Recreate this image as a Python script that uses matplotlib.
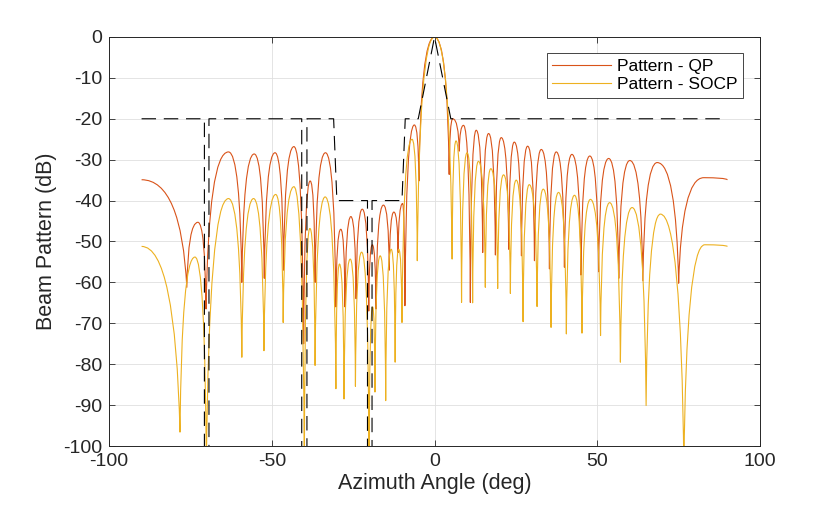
import matplotlib
matplotlib.use('Agg')
import matplotlib.pyplot as plt
from matplotlib.path import Path
from matplotlib.patches import PathPatch
from matplotlib.lines import Line2D

plt.rcParams['font.family'] = ['Liberation Sans', 'DejaVu Sans']
plt.rcParams['axes.unicode_minus'] = False

# lobe extrema (peak / null), azimuth in deg, pattern in dB
qp_ang = [-90.0, -76.1, -72.7, -70.2, -63.3, -59.2, -55.4, -52.3, -49.0, -46.4,
          -43.2, -40.2, -38.2, -36.7, -33.5, -30.3, -28.8, -27.5, -25.7, -24.1,
          -22.2, -20.2, -19.1, -18.0, -15.7, -13.9, -12.5, -11.2, -9.8, -9.1,
          -6.2, -4.8, 0.0, 4.5, 5.6, 7.6, 8.9, 11.0, 12.8, 14.8,
          16.6, 18.7, 20.5, 22.8, 24.5, 26.7, 28.6, 30.7, 32.8, 35.3,
          37.4, 39.9, 42.2, 45.0, 47.7, 50.4, 53.5, 56.6, 60.0, 64.0,
          68.4, 75.0, 82.7, 90.0]
qp_db = [-34.9, -61.2, -45.3, -66.5, -28.1, -60.0, -28.6, -59.0, -28.3, -57.0,
         -26.8, -75.0, -35.2, -60.0, -28.3, -66.0, -47.0, -66.0, -43.9, -64.0,
         -42.1, -67.0, -50.8, -66.5, -41.1, -57.0, -42.8, -52.7, -40.7, -65.7,
         -21.5, -35.2, 0.0, -33.6, -20.0, -27.9, -21.6, -64.9, -22.8, -52.7,
         -23.6, -53.3, -24.6, -51.9, -25.7, -53.5, -26.7, -54.7, -27.5, -56.7,
         -28.1, -56.3, -28.7, -58.2, -29.1, -57.4, -29.7, -59.0, -30.2, -59.6,
         -30.7, -60.2, -34.4, -34.9]

socp_ang = [-90.0, -78.2, -73.6, -70.1, -63.3, -59.2, -55.6, -52.4, -48.8, -46.5,
            -43.2, -40.0, -38.3, -36.7, -33.6, -30.3, -29.2, -27.8, -25.9, -24.3,
            -22.4, -20.1, -19.0, -18.3, -16.7, -15.0, -13.3, -12.1, -11.0, -10.0,
            -6.9, -5.3, 0.0, 5.4, 6.6, 8.3, 10.0, 11.7, 13.5, 15.6,
            17.3, 19.4, 21.2, 23.3, 25.1, 27.2, 29.1, 31.5, 33.4, 35.8,
            38.1, 40.5, 43.0, 45.3, 47.9, 51.0, 53.8, 57.1, 60.7, 65.0,
            69.4, 76.6, 83.0, 90.0]
socp_db = [-51.2, -96.6, -53.8, -105.0, -39.5, -78.3, -39.5, -76.7, -38.5, -69.8,
           -36.6, -105.0, -46.8, -80.3, -39.1, -86.0, -55.5, -88.5, -54.3, -85.4,
           -52.6, -105.0, -66.0, -86.8, -53.5, -88.9, -51.9, -79.5, -51.9, -69.8,
           -25.0, -54.7, 0.0, -54.3, -25.4, -64.9, -28.3, -65.0, -30.4, -61.2,
           -32.2, -61.5, -33.7, -62.7, -35.0, -69.6, -36.1, -65.9, -37.2, -71.0,
           -38.0, -72.6, -38.7, -72.4, -39.7, -73.0, -40.5, -79.5, -41.7, -90.1,
           -43.3, -105.0, -50.8, -51.2]

mask_ang = [-90, -70.7, -70.7, -69.3, -69.3, -40.8, -40.8, -39.2, -39.2, -31, -30,
            -20.6, -20.6, -19.2, -19.2, -10, -9, -5, 0, 5, 90]
mask_db = [-20, -20, -105, -105, -20, -20, -105, -105, -20, -20, -40,
           -40, -105, -105, -40, -40, -20, -20, 0, -20, -20]

QP_COLOR = '#D95319'
SOCP_COLOR = '#EDB120'
TEXT = '#262626'


def lobe_path(ang, db, k=0.12):
    # quadratic curve between neighbouring extrema, flat at the peak side
    verts = [(ang[0], db[0])]
    codes = [Path.MOVETO]
    for x0, y0, x1, y1 in zip(ang[:-1], db[:-1], ang[1:], db[1:]):
        if y0 < y1:
            ctrl = (x0 + k * (x1 - x0), y1)
        else:
            ctrl = (x1 + k * (x0 - x1), y0)
        verts += [ctrl, (x1, y1)]
        codes += [Path.CURVE3, Path.CURVE3]
    return Path(verts, codes)


fig = plt.figure(figsize=(8.4, 5.05), dpi=100)
ax = fig.add_axes([0.1298, 0.1168, 0.775, 0.81])

ax.add_patch(PathPatch(lobe_path(qp_ang, qp_db), fill=False, edgecolor=QP_COLOR,
                       lw=0.8, joinstyle='round'))
ax.add_patch(PathPatch(lobe_path(socp_ang, socp_db), fill=False, edgecolor=SOCP_COLOR,
                       lw=0.8, joinstyle='round'))
ax.plot(mask_ang, mask_db, color='black', lw=0.8, ls=(0, (13, 7)))

ax.set_xlim(-100, 100)
ax.set_ylim(-100, 0)
ax.set_xticks([-100, -50, 0, 50, 100])
ax.set_yticks(range(-100, 1, 10))
ax.grid(True, color='#DFDFDF', lw=0.6)
ax.set_axisbelow(True)
ax.tick_params(direction='in', top=True, right=True, length=4, width=0.6,
               colors=TEXT, labelsize=14, pad=5)
for s in ax.spines.values():
    s.set_color(TEXT)
    s.set_linewidth(0.7)

ax.set_xlabel('Azimuth Angle (deg)', fontsize=15.5, color=TEXT, labelpad=2)
ax.set_ylabel('Beam Pattern (dB)', fontsize=15.5, color=TEXT, labelpad=4)

handles = [Line2D([], [], color=QP_COLOR, lw=0.8),
           Line2D([], [], color=SOCP_COLOR, lw=0.8)]
leg = ax.legend(handles, ['Pattern - QP', 'Pattern - SOCP'], loc='upper right',
                bbox_to_anchor=(0.974, 0.960), fontsize=12.5, handlelength=3.4,
                handletextpad=0.35, borderpad=0.3, labelspacing=0.2,
                borderaxespad=0, fancybox=False, framealpha=1)
leg.get_frame().set_edgecolor(TEXT)
leg.get_frame().set_linewidth(0.6)

fig.savefig('out.png', dpi=100)
